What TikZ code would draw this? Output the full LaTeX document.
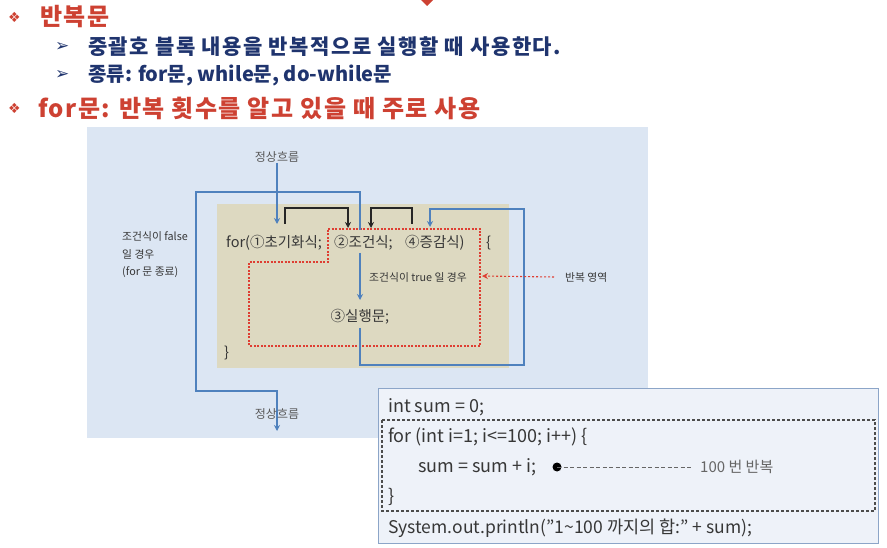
\documentclass[tikz,border=0pt]{standalone}
\usepackage{fontspec}
\setmainfont{Noto Sans CJK KR}
\newfontfamily\symfont{DejaVu Sans}
\usetikzlibrary{arrows.meta}
\definecolor{headred}{RGB}{205,65,50}
\definecolor{headblue}{RGB}{31,52,110}
\definecolor{panelblue}{RGB}{220,230,243}
\definecolor{panelten}{RGB}{221,217,193}
\definecolor{flowblue}{RGB}{79,129,189}
\definecolor{areared}{RGB}{222,62,50}
\definecolor{codefill}{RGB}{238,242,249}
\definecolor{codeline}{RGB}{140,165,200}
\definecolor{codetext}{RGB}{55,55,55}
\tikzset{
    every node/.style={inner sep=0pt, anchor=west},
    bul/.style={font=\symfont\fontsize{14}{14}\selectfont},
    arr/.style={text=headblue, font=\symfont\fontsize{17}{17}\selectfont\bfseries},
    head/.style={text=headred,
        font=\addfontfeature{LetterSpace=6}\fontsize{24}{24}\selectfont\bfseries},
    sub/.style={text=headblue, font=\fontsize{20}{20}\selectfont\bfseries},
    stmt/.style={text=codetext, font=\fontsize{14.5}{14.5}\selectfont},
    small/.style={text=codetext, font=\fontsize{10.8}{17.5}\selectfont},
    code/.style={text=codetext, font=\fontsize{18}{18}\selectfont},
    flow/.style={draw=flowblue, line width=1.6pt,
        -{Stealth[length=6pt, width=6pt]}},
    jump/.style={draw=black!85, line width=1.3pt,
        -{Stealth[length=6pt, width=6pt]}},
    area/.style={draw=areared, line width=1.1pt, dash pattern=on 2pt off 1.5pt}
}
\begin{document}
\begin{tikzpicture}[x=1pt, y=-1pt]
	\useasboundingbox (0,0) rectangle (887,548);
	\fill[headred] (421,0) -- (427,6) -- (433,0) -- cycle;
	% headings
	\node[bul, text=headred] (b1) at (8,17) {❖};
	\node[head] (h1) at (40,17) {반복문};
	\node[arr] (b2) at (55,47) {➢};
	\node[sub, font=\addfontfeature{LetterSpace=7}\fontsize{21}{21}\selectfont\bfseries]
		(h2) at (88,47) {중괄호 블록 내용을 반복적으로 실행할 때 사용한다.};
	\node[arr] (b3) at (55,75) {➢};
	\node[sub] (h3) at (88,75) {종류: for문, while문, do-while문};
	\node[bul, text=headred] (b4) at (8,108) {❖};
	\node[head] (h4) at (38,108) {for문: 반복 횟수를 알고 있을 때 주로 사용};
	% panel
	\fill[panelblue] (87,127) rectangle (648,438);
	\fill[panelten] (217,204) rectangle (509,368);
	\draw[area] (328,229) -- (480,229) -- (480,346) -- (249,346) -- (249,262)
		-- (328,262) -- cycle;
	\coordinate (initin) at (277,224);
	\coordinate (condtop) at (360,230);
	\coordinate (condout) at (360,253);
	\coordinate (bodyin) at (360,300);
	\coordinate (bodyout) at (360,328);
	\coordinate (incrin) at (430,227);
	\coordinate (exit) at (277,431);
	\coordinate (j1s) at (285,224); \coordinate (j1e) at (348,228);
	\coordinate (j2s) at (412,224); \coordinate (j2e) at (371,228);
	\coordinate (areain) at (482,276);
	\draw[flow] (277,163) -- (initin);
	\draw[flow] (condtop) |- (196,192) |- (277,391) -- (exit);
	\draw[flow] (condout) -- (bodyin);
	\draw[flow] (bodyout) |- (524,365) |- (430,209) -- (incrin);
	\draw[jump] (j1s) -- ++(0,-16) -| (j1e);
	\draw[jump] (j2s) -- ++(0,-16) -| (j2e);
	\node[stmt] (init) at (226,243) {for(①초기화식;};
	\node[stmt] (cond) at (334,243) {②조건식;};
	\node[stmt] (incr) at (405,243) {④증감식)};
	\node[stmt] (open) at (486,243) {\{};
	\node[stmt, anchor=center] (body) at (360,317) {③실행문;};
	\node[stmt] (close) at (224,353) {\}};
	\node[small, anchor=center, text=black!65, font=\fontsize{12}{12}\selectfont]
		(in) at (277,157) {정상흐름};
	\node[small, anchor=center, text=black!65, font=\fontsize{12}{12}\selectfont]
		(out) at (277,414) {정상흐름};
	\node[small, anchor=base west, align=left] (false) at (122,276)
		{조건식이 false\\일 경우\\(for 문 종료)};
	\node[small] (true) at (369,277) {조건식이 true 일 경우};
	\node[small] (rep) at (565,277) {반복 영역};
	\draw[draw=areared, line width=1.1pt, dash pattern=on 2pt off 2pt,
		-{Stealth[length=6pt, width=6pt]}] (rep.west) ++(-11,0) -- (areain);
	% code box
	\draw[draw=codeline, fill=codefill, line width=1pt] (378,388) rectangle (878,543);
	\draw[draw=black!70, line width=1.1pt, dash pattern=on 3pt off 2pt]
		(382,420) rectangle (875,511);
	\node[code] (sum0) at (388,407) {int sum = 0;};
	\node[code] (loop) at (388,437) {for (int i=1; i<=100; i++) \{};
	\node[code] (add) at (418,467) {sum = sum + i;};
	\node[code] (end) at (388,497) {\}};
	\node[code, font=\fontsize{17.5}{17.5}\selectfont]
		(print) at (388,528) {System.out.println("1\textasciitilde100 까지의 합:" + sum);};
	\fill[black] (557,467) circle (4.5);
	\coordinate (dot) at (557,467);
	\node[text=black!60, font=\fontsize{15}{15}\selectfont] (times) at (700,467) {100 번 반복};
	\draw[draw=black!60, line width=0.9pt, dash pattern=on 4pt off 2.5pt,
		shorten >=9pt] (dot) -- (times.west);
\end{tikzpicture}
\end{document}
